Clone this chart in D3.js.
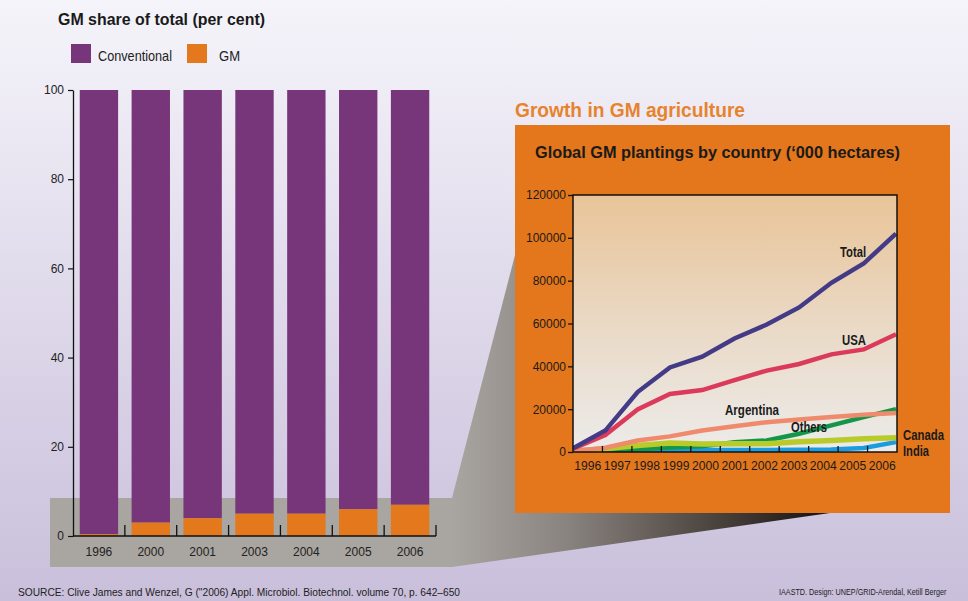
<!DOCTYPE html>
<html><head><meta charset="utf-8">
<script src="https://cdn.jsdelivr.net/npm/d3@7"></script>
<style>
html,body{margin:0;padding:0;}
svg{display:block;font-family:"Liberation Sans",Arial,Helvetica,sans-serif;}
</style></head>
<body>
<svg id="c" width="968" height="601"></svg>
<script>
// ---- data: left bar chart ----
const barYears = ["1996","2000","2001","2003","2004","2005","2006"];
const gmShare = [0.4, 3, 4, 5, 5, 6, 7];
const barTicks = [0, 20, 40, 60, 80, 100];

// ---- data: line chart ('000 hectares) ----
const lineYears = ["1996","1997","1998","1999","2000","2001","2002","2003","2004","2005","2006"];
const total     = [1700, 10000, 28000, 39500, 44500, 53000, 59500, 67500, 79000, 88000, 102000];
const usa       = [1500, 7900, 19900, 27100, 28900, 33600, 38000, 41100, 45600, 47900, 55000];
const argentina = [300, 2000, 5400, 7300, 10000, 12000, 13900, 15200, 16300, 17400, 18200];
const others    = [100, 700, 1300, 2100, 2700, 4600, 5400, 8500, 12400, 16300, 20000];
const canada    = [300, 1500, 3000, 4200, 3700, 3900, 3900, 4800, 5400, 6200, 6600];
const india     = [900, 900, 900, 900, 900, 900, 900, 1000, 1200, 1900, 4600];
const lineTicks = [0, 20000, 40000, 60000, 80000, 100000, 120000];

const svg = d3.select("#c");
const defs = svg.append("defs");

// background gradient
const bg = defs.append("linearGradient").attr("id","bg").attr("x1",0).attr("y1",0).attr("x2",0).attr("y2",1);
bg.append("stop").attr("offset","0%").attr("stop-color","#f5f4fa");
bg.append("stop").attr("offset","100%").attr("stop-color","#c9bfdb");
svg.append("rect").attr("width",968).attr("height",601).attr("fill","url(#bg)");

// dark projection gradient
const dg = defs.append("linearGradient").attr("id","dg").attr("gradientUnits","userSpaceOnUse")
  .attr("x1",452).attr("y1",0).attr("x2",830).attr("y2",0);
dg.append("stop").attr("offset","0%").attr("stop-color","#a9a5a0");
dg.append("stop").attr("offset","30%").attr("stop-color","#8a8480");
dg.append("stop").attr("offset","70%").attr("stop-color","#4a423d");
dg.append("stop").attr("offset","100%").attr("stop-color","#17120f");

// plot area gradient
const pg = defs.append("linearGradient").attr("id","pg").attr("x1",0).attr("y1",0).attr("x2",0).attr("y2",1);
pg.append("stop").attr("offset","0%").attr("stop-color","#e9c498");
pg.append("stop").attr("offset","55%").attr("stop-color","#eadbc9");
pg.append("stop").attr("offset","100%").attr("stop-color","#ecebea");

// gray band & projection
svg.append("rect").attr("x",50).attr("y",498).attr("width",403).attr("height",69).attr("fill","#a9a5a0");
svg.append("polygon").attr("points","452,498 515,255 830,513 452,567").attr("fill","url(#dg)");

// ---- left chart ----
const font = "'Liberation Sans',Arial,sans-serif";
svg.append("text").attr("x",58).attr("y",25).attr("font-size",17).attr("font-weight","bold")
  .attr("fill","#1a1a1a").attr("textLength",207).attr("lengthAdjust","spacingAndGlyphs")
  .text("GM share of total (per cent)");

const legend = [["Conventional","#773679",71,98,74],["GM","#e4781c",187,219,21]];
legend.forEach(([t,c,x,tx,w])=>{
  svg.append("rect").attr("x",x).attr("y",44).attr("width",20).attr("height",19).attr("fill",c);
  svg.append("text").attr("x",tx).attr("y",61).attr("font-size",14.5).attr("fill","#222")
    .attr("textLength",w).attr("lengthAdjust","spacingAndGlyphs").text(t);
});

const xL = d3.scaleBand().domain(barYears).range([73,436]).paddingInner(0.26).paddingOuter(0.13);
const yL = d3.scaleLinear().domain([0,100]).range([536,90]);

const bars = svg.append("g");
barYears.forEach((yr,i)=>{
  const g = gmShare[i];
  bars.append("rect").attr("x",xL(yr)).attr("width",xL.bandwidth())
    .attr("y",yL(100)).attr("height",yL(g)-yL(100)).attr("fill","#773679");
  bars.append("rect").attr("x",xL(yr)).attr("width",xL.bandwidth())
    .attr("y",yL(g)).attr("height",yL(0)-yL(g)).attr("fill","#e4781c");
});

// y axis left
const yAx = svg.append("g").attr("transform","translate(73,0)")
  .call(d3.axisLeft(yL).tickValues(barTicks).tickSize(5).tickSizeOuter(0).tickPadding(4));
yAx.select(".domain").attr("stroke","#111").attr("stroke-width",1.3);
yAx.selectAll(".tick line").attr("stroke","#111").attr("stroke-width",1.2);
yAx.selectAll("text").attr("font-size",12).attr("font-family",font).attr("fill","#222").attr("dy","0.55em")
  .attr("transform","translate(0,-3)");

// x axis left
const xg = svg.append("g");
xg.append("line").attr("x1",73).attr("x2",436).attr("y1",536).attr("y2",536).attr("stroke","#111").attr("stroke-width",1.5);
const step = xL.step();
barYears.forEach((yr,i)=>{
  const bx = 73 + (i+1)*step;
  xg.append("line").attr("x1",bx).attr("x2",bx).attr("y1",536).attr("y2",525).attr("stroke","#111").attr("stroke-width",1.3);
  xg.append("text").attr("x",xL(yr)+xL.bandwidth()/2).attr("y",556).attr("text-anchor","middle")
    .attr("font-size",12).attr("fill","#222").text(yr);
});

// ---- right panel ----
svg.append("text").attr("x",515).attr("y",117).attr("font-size",20).attr("font-weight","bold")
  .attr("fill","#e8832d").attr("textLength",230).attr("lengthAdjust","spacingAndGlyphs")
  .text("Growth in GM agriculture");
svg.append("rect").attr("x",515).attr("y",125).attr("width",435).attr("height",388).attr("fill","#e4771b");
svg.append("text").attr("x",535).attr("y",158).attr("font-size",16.5).attr("font-weight","bold")
  .attr("fill","#1a1a1a").attr("textLength",365).attr("lengthAdjust","spacingAndGlyphs")
  .text("Global GM plantings by country (\u2018000 hectares)");

const px0 = 573, px1 = 897, py0 = 195, py1 = 452;
const xP = d3.scalePoint().domain(lineYears).range([px0, px1-1]);
const xB = d3.scaleBand().domain(lineYears).range([px0, px1]);
const yR = d3.scaleLinear().domain([0,120000]).range([py1, py0]);

svg.append("rect").attr("x",px0).attr("y",py0).attr("width",px1-px0).attr("height",py1-py0).attr("fill","url(#pg)");
defs.append("clipPath").attr("id","clip").append("rect").attr("x",px0).attr("y",py0).attr("width",px1-px0).attr("height",py1-py0);

const line = d3.line().x((d,i)=>xP(lineYears[i])).y(d=>yR(d));
const series = [
  [india,"#1b9ce0",4.5],
  [others,"#12974a",4.5],
  [canada,"#b8cb2a",5.5],
  [argentina,"#ef8a6c",4.5],
  [usa,"#dc3a5b",4.5],
  [total,"#443b87",4.5]
];
const lg = svg.append("g").attr("clip-path","url(#clip)");
series.forEach(([v,c,w])=>{
  lg.append("path").attr("d",line(v)).attr("fill","none").attr("stroke",c).attr("stroke-width",w)
    .attr("stroke-linejoin","miter");
});

// frame
svg.append("rect").attr("x",px0).attr("y",py0).attr("width",px1-px0).attr("height",py1-py0)
  .attr("fill","none").attr("stroke","#111").attr("stroke-width",1.5);

// y axis right chart
const yAx2 = svg.append("g").attr("transform",`translate(${px0},0)`)
  .call(d3.axisLeft(yR).tickValues(lineTicks).tickSize(5).tickSizeOuter(0).tickPadding(2).tickFormat(d3.format("d")));
yAx2.select(".domain").remove();
yAx2.selectAll(".tick line").attr("stroke","#111").attr("stroke-width",1.3);
yAx2.selectAll("text").attr("font-size",12).attr("font-family",font).attr("fill","#1a1a1a");

// x axis right chart
lineYears.forEach((yr,i)=>{
  if(i>0){
    const bx = xB(yr);
    svg.append("line").attr("x1",bx).attr("x2",bx).attr("y1",py1).attr("y2",py1-6).attr("stroke","#111").attr("stroke-width",1.3);
  }
  svg.append("text").attr("x",xB(yr)+xB.bandwidth()/2).attr("y",470).attr("text-anchor","middle")
    .attr("font-size",12.5).attr("fill","#1a1a1a").attr("textLength",27).attr("lengthAdjust","spacingAndGlyphs").text(yr);
});

// series labels
const labels = [
  ["Total",840,257,26,14],["USA",842,345,24,14],["Argentina",725,415,54,14],
  ["Others",791,432,36,14],["Canada",903,440,41,15],["India",903,456,26,15]
];
labels.forEach(([t,x,y,w,fs])=>{
  svg.append("text").attr("x",x).attr("y",y).attr("font-size",fs).attr("font-weight","bold")
    .attr("fill","#1a1a1a").attr("textLength",w).attr("lengthAdjust","spacingAndGlyphs").text(t);
});

// footer
svg.append("text").attr("x",18).attr("y",596).attr("font-size",11).attr("fill","#222")
  .attr("textLength",442).attr("lengthAdjust","spacingAndGlyphs")
  .text("SOURCE: Clive James and Wenzel, G (\"2006) Appl. Microbiol. Biotechnol. volume 70, p. 642\u2013650");
svg.append("text").attr("transform","translate(779,595) scale(0.84,1)").attr("font-size",8.6).attr("fill","#222")
  .text("IAASTD. Design: UNEP/GRID-Arendal, Ketill Berger");
</script>
</body></html>
